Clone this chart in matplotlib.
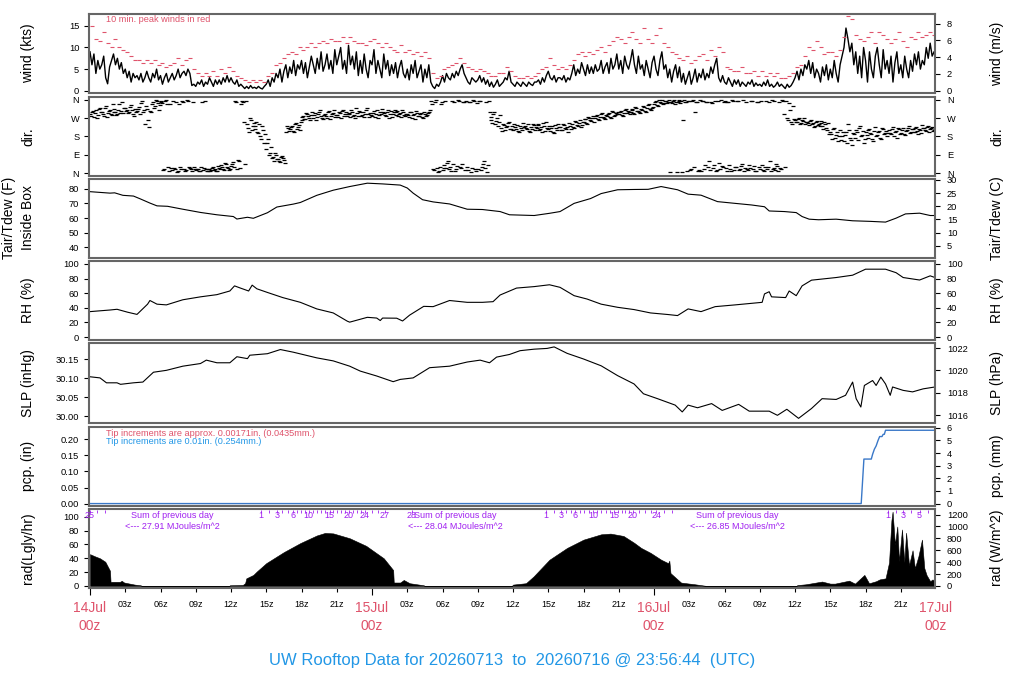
import numpy as np
import matplotlib
matplotlib.use("Agg")
import matplotlib.pyplot as plt
import matplotlib.transforms as mtransforms

plt.rcParams['font.family'] = ['Liberation Sans', 'DejaVu Sans']

RED = '#DF536B'
BLUE = '#2297E6'
PURPLE = '#A020F0'
FRAME = '#666666'

# ---------------- data (hours after 14Jul 00z) ----------------
# wind speed (kts), 10-minute values
wind_kts = [
 9, 6, 8.5, 4, 7, 5,
 6, 8, 3, 1.6, 5.5, 7,
 8.5, 6, 7.5, 5, 6.5, 4,
 5, 3, 4.5, 2, 4, 3,
 3.5, 2.5, 4, 2, 3, 4.5,
 3, 2, 4, 3, 5, 2.5,
 3.5, 1.5, 3, 4, 2, 3,
 4, 2.5, 3.5, 5, 3, 4,
 4.5, 3.5, 5, 4, 1.2, 1.5,
 1, 2, 1.5, 2.5, 1, 2,
 1.5, 3, 2, 1, 2.5, 1.5,
 2.5, 1.5, 3, 2, 3.5, 2,
 3, 2, 1.5, 2.5, 1, 1.5,
 1, 0.5, 1, 0.5, 1.2, 0.6,
 0.8, 0.5, 1, 0.6, 0.4, 1,
 1.5, 2.5, 1, 3, 2, 4,
 3, 5, 2, 4.5, 6, 3,
 5.5, 4, 7, 3.5, 6, 5,
 7, 4, 6.5, 3, 5.5, 8,
 6, 4, 7.5, 5, 9, 4.5,
 6, 8.5, 5, 7, 4, 9.5,
 6, 8, 10, 5, 7, 4,
 10.5, 6, 8, 5, 9, 3.5,
 7, 4, 8.5, 5, 3, 7,
 6, 9.5, 4, 7, 5, 3,
 8.5, 5, 7, 3.5, 6, 4,
 6.5, 3, 5.5, 7, 4, 3,
 5, 2.5, 6, 4, 7, 3,
 4.5, 6, 2, 5, 3, 6,
 2, 1, 0.5, 1.5, 1, 2,
 3.5, 2, 4, 3, 2.5, 4,
 3, 4.5, 3.5, 5, 6, 4,
 3, 2, 1.5, 3, 2.5, 2,
 2.5, 3.5, 2, 3, 1.5, 2.5,
 1, 2, 0.8, 1.5, 2.5, 1,
 1.5, 2, 3, 2.5, 4.5, 2,
 1.5, 1, 2, 1.5, 1, 2,
 1.5, 1, 2, 1.5, 1.2, 2,
 2, 2.5, 1.5, 3, 2, 3.5,
 4.5, 3, 2.5, 3.5, 2, 3,
 3, 2.5, 3.5, 2, 3, 2.5,
 4, 6, 3.5, 5, 4, 6.5,
 5, 3.5, 6, 4, 5.5, 4,
 6, 4.5, 5, 7, 4, 5.5,
 6.5, 4, 7.5, 5, 6, 8.5,
 5, 7, 4, 8, 6, 5,
 7, 9.5, 6, 4, 8, 5,
 6, 3.5, 7, 5, 3, 6.5,
 8, 5, 3.5, 7, 9, 5,
 6, 3, 5, 2, 4.5, 6,
 3, 5.5, 2, 4, 1.5, 3,
 4.5, 1.5, 3, 5, 2, 4,
 3, 5, 2.5, 4, 3, 5.5,
 4, 6, 7.5, 3, 2, 3.5,
 2, 1.5, 3, 2, 1, 2.5,
 1.5, 2.5, 1, 2, 1.5, 1,
 2, 1.5, 2.5, 1, 1.8, 1.2,
 1.5, 1, 2, 1.2, 2.5, 1,
 1.5, 0.8, 1.2, 2, 1, 1.5,
 1, 0.5, 1.5, 0.8, 1.2, 2,
 3, 4.5, 2.5, 5, 3.5, 6,
 5, 7, 4, 6.5, 3, 5,
 4, 2, 5.5, 3.5, 6, 2.5,
 5, 3, 7, 4, 2, 6,
 8, 10, 14.5, 12, 9, 11,
 6, 9, 4, 8, 3, 10,
 7, 2, 9, 5, 3, 8,
 10, 6, 3, 9.5, 5, 7,
 4, 8, 2, 6.5, 9, 4,
 6, 3, 8, 5, 3, 7,
 4.5, 8.5, 6, 9, 5, 7,
 6, 10, 7.5, 11, 8, 9,
]

# peak wind (kts), 20-minute values
peak_kts = [
 15, 12, 11.5,  13.5, 11, 10,  12, 10, 9.5,  9, 8, 7,
 7, 6.5, 7,  6.5, 7, 6,  6.5, 5.5, 6,  6.5, 7.5, 6,
 7, 7.5, 5,  4, 3.5, 4,  3.5, 4.5, 3.5,  5, 4, 5.5,
 4.5, 3.5, 3,  2.5, 2, 2.5,  2, 2.5, 2,  3.5, 4, 6,
 6.5, 7.5, 8.5,  9, 8.5, 10,  9.5, 10, 11,  10, 11, 11.5,
 11, 12, 11.5,  11.5, 12.5, 11,  12.5, 11.5, 11,  11, 10.5, 11.5,
 12, 11, 10,  11, 10, 9.5,  9, 10.5, 9,  9.5, 8.5, 9,
 8, 9, 7.5,  4, 3, 3.5,  5, 5.5, 6,  6.5, 7.5, 6.5,
 5.5, 5, 4.5,  5, 4.5, 4,  3.5, 3.5, 4,  4, 5.5, 4.5,
 3.5, 3, 3,  3.5, 3, 3.5,  4, 5, 5.5,  7.5, 6, 5,
 5.5, 5, 6,  7, 8.5, 9,  8, 9, 8.5,  9.5, 10, 9,
 10.5, 11.5, 12.5,  12, 11, 12.5,  13.5, 12, 11,  14.5, 12, 11,
 13, 14.5, 11,  10, 9, 8.5,  7.5, 7, 8,  6.5, 7, 8,
 8.5, 7, 9.5,  8, 10, 9,  5.5, 5, 4.5,  4.5, 5.5, 4,
 4, 4.5, 3.5,  4.5, 3.5, 4,  3.5, 4, 3,  3, 3.5, 4,
 5.5, 6, 8,  10, 9.5, 11.5,  10, 8.5, 9,  9, 8, 9.5,
 12.5, 17.2, 16.5,  13, 12, 11.5,  12.5, 13.5, 11,  13.5, 13, 12,
 11, 12, 13.5,  11.5, 10, 12.5,  12, 13.5, 12.5,  13, 13.5, 13,
]

# wind direction (deg), 10-minute values on the hour marks
wind_dir = [
 290, 300, 275, 310, 285, 320,
 300, 280, 330, 295, 310, 285,
 315, 300, 290, 340, 305, 295,
 320, 310, 300, 335, 290, 315,
 305, 325, 345, 300, 240, 315,
 225, 300, 350, 330, 355, 310,
 355, 345, 20, 358, 30, 340,
 15, 25, 352, 10, 30, 355,
 20, 15, 355, 25, 10, 30,
 15, 20, 12, 350, 25, 18,
 10, 22, 15, 30, 20, 12,
 25, 40, 20, 50, 30, 15,
 35, 55, 355, 20, 60, 340,
 350, 45, 240, 200, 260, 230,
 215, 250, 195, 180, 230, 150,
 120, 170, 100, 75, 60, 90,
 70, 55, 85, 65, 200, 220,
 215, 230, 200, 245, 225, 210,
 260, 280, 265, 290, 270, 285,
 270, 295, 275, 300, 280, 265,
 290, 270, 305, 280, 295, 275,
 285, 300, 270, 310, 290, 280,
 295, 275, 300, 285, 320, 280,
 300, 285, 275, 310, 290, 295,
 280, 305, 290, 270, 300, 315,
 295, 280, 310, 290, 275, 300,
 285, 305, 290, 275, 300, 280,
 290, 275, 300, 285, 265, 295,
 280, 295, 270, 290, 285, 300,
 355, 20, 350, 25, 10, 340,
 15, 40, 25, 60, 30, 355,
 350, 20, 358, 30, 45, 352,
 355, 15, 350, 25, 355, 10,
 20, 355, 30, 60, 350, 40,
 300, 260, 290, 240, 270, 250,
 220, 240, 210, 230, 250, 215,
 210, 225, 235, 200, 220, 245,
 230, 215, 205, 225, 240, 210,
 220, 235, 215, 200, 230, 250,
 215, 205, 230, 195, 220, 240,
 225, 210, 235, 215, 200, 230,
 240, 220, 250, 230, 260, 235,
 250, 265, 240, 270, 255, 280,
 270, 285, 260, 290, 275, 265,
 280, 295, 270, 300, 285, 290,
 290, 305, 280, 310, 295, 300,
 300, 315, 290, 320, 305, 295,
 310, 325, 300, 335, 315, 320,
 340, 355, 330, 350, 358, 345,
 355, 350, 5, 345, 358, 350,
 350, 360, 355, 260, 352, 10,
 355, 20, 358, 300, 350, 15,
 10, 355, 40, 352, 60, 350,
 25, 355, 15, 50, 358, 30,
 355, 10, 350, 20, 358, 15,
 30, 355, 20, 45, 10, 352,
 15, 25, 355, 35, 10, 350,
 20, 40, 10, 355, 30, 60,
 358, 25, 15, 35, 350, 20,
 355, 30, 270, 345, 250, 330,
 260, 250, 270, 245, 255, 240,
 250, 235, 260, 245, 230, 255,
 240, 255, 230, 250, 220, 245,
 200, 170, 220, 185, 160, 210,
 180, 160, 200, 240, 175, 140,
 190, 210, 165, 230, 185, 150,
 200, 175, 215, 190, 160, 225,
 185, 205, 170, 215, 195, 180,
 210, 190, 225, 200, 175, 215,
 195, 220, 185, 210, 230, 200,
 215, 200, 225, 190, 210, 235,
 220, 205, 230, 215, 225, 210,
]

# wind direction (deg), 10-minute values offset by 5 minutes
wind_dir_mid = [
 280, 305, 295, 270, 315, 300,
 290, 320, 275, 305, 290, 340,
 300, 285, 310, 295, 350, 320,
 305, 295, 325, 310, 280, 300,
 315, 290, 355, 310, 330, 260,
 305, 340, 320, 358, 345, 335,
 350, 15, 355, 340, 10, 25,
 355, 20, 5, 340, 18, 350,
 12, 358, 28, 18, 350, 22,
 20, 10, 28, 15, 355, 12,
 18, 12, 25, 15, 10, 35,
 20, 30, 15, 45, 25, 18,
 45, 30, 350, 65, 25, 355,
 250, 355, 220, 270, 210, 245,
 230, 200, 240, 170, 210, 190,
 150, 90, 130, 80, 100, 70,
 60, 80, 75, 50, 230, 205,
 225, 205, 240, 215, 235, 250,
 275, 265, 295, 280, 260, 300,
 285, 260, 290, 310, 270, 285,
 280, 300, 265, 290, 310, 285,
 275, 295, 305, 280, 300, 290,
 290, 310, 280, 270, 295, 305,
 280, 300, 290, 320, 275, 285,
 295, 275, 310, 285, 290, 300,
 285, 300, 270, 305, 290, 310,
 300, 280, 295, 310, 285, 290,
 285, 300, 270, 290, 305, 280,
 290, 275, 300, 280, 295, 310,
 340, 15, 358, 5, 30, 350,
 25, 355, 50, 20, 10, 45,
 10, 35, 355, 25, 350, 15,
 30, 350, 5, 358, 20, 345,
 355, 15, 45, 25, 5, 355,
 275, 245, 300, 255, 230, 285,
 205, 235, 225, 245, 215, 230,
 240, 215, 205, 230, 210, 225,
 220, 240, 200, 215, 235, 225,
 240, 210, 225, 245, 205, 220,
 230, 220, 200, 235, 210, 225,
 210, 240, 220, 225, 245, 215,
 225, 255, 235, 245, 225, 250,
 265, 245, 275, 260, 270, 250,
 280, 265, 275, 295, 270, 285,
 290, 275, 305, 280, 295, 300,
 300, 285, 295, 315, 305, 290,
 310, 295, 325, 305, 300, 315,
 330, 305, 320, 340, 310, 325,
 350, 335, 358, 345, 340, 355,
 345, 358, 350, 355, 340, 5,
 355, 345, 5, 358, 350, 355,
 15, 355, 30, 350, 10, 358,
 355, 20, 350, 30, 15, 345,
 40, 10, 355, 20, 35, 352,
 25, 350, 40, 10, 355, 30,
 355, 15, 35, 358, 25, 20,
 40, 355, 20, 10, 352, 30,
 355, 15, 30, 20, 350, 10,
 20, 355, 45, 10, 25, 358,
 290, 355, 260, 310, 240, 265,
 250, 265, 240, 260, 270, 250,
 245, 255, 240, 225, 250, 235,
 230, 245, 215, 240, 210, 190,
 190, 215, 175, 200, 180, 165,
 200, 185, 150, 210, 165, 195,
 175, 200, 220, 180, 205, 170,
 185, 210, 195, 170, 205, 180,
 200, 175, 220, 190, 205, 195,
 195, 215, 180, 205, 220, 190,
 210, 190, 205, 220, 195, 215,
 200, 220, 205, 215, 195, 220,
 210, 225, 200, 220, 205, 215,
]

# air temperature (F)
temp_hours = [0, 1.7, 2.1, 2.8, 3.7, 4.3, 5.1, 5.7, 6.6, 7.9,
              9.4, 10.8, 12.2, 12.5, 13.4, 13.9, 15.1, 15.9, 17.3, 17.9,
              19.3, 20.7, 22.1, 23.6, 24.9, 26.4, 27.0, 27.5, 28.3, 29.2,
              30.6, 32.1, 33.4, 34.9, 35.7, 37.8, 39.1, 40.0, 41.2, 42.6,
              43.5, 44.9, 46.3, 47.5, 48.6, 50.0, 50.9, 52.0, 53.4, 54.9,
              56.3, 57.4, 57.8, 59.1, 60.1, 60.6, 61.2, 62.0, 63.5, 64.9,
              66.4, 67.7, 68.6, 69.4, 70.6, 71.5, 71.91]
temp_f = [78.0, 77.0, 77.2, 75.5, 75.0, 73.0, 70.2, 68.3, 68.0, 66.0,
          63.8, 62.2, 61.0, 59.3, 60.5, 59.8, 63.6, 67.5, 69.5, 70.6,
          75.5, 79.0, 81.5, 83.8, 83.3, 82.5, 80.5, 77.0, 72.5, 71.0,
          69.6, 66.0, 65.8, 64.4, 62.2, 61.7, 63.2, 64.4, 70.0, 73.3,
          76.7, 79.3, 79.5, 79.6, 81.5, 79.3, 76.3, 75.6, 71.2, 70.0,
          68.9, 67.7, 64.8, 64.4, 63.7, 61.0, 59.2, 58.8, 59.2, 58.1,
          57.7, 57.2, 59.9, 62.8, 63.3, 61.7, 61.7]

# relative humidity (%)
rh_hours = [0, 1.7, 2.3, 3.2, 4.0, 4.9, 5.1, 5.7, 6.5, 7.9,
            9.4, 10.8, 11.9, 12.3, 12.8, 13.5, 13.8, 14.2, 15.1, 16.4,
            17.9, 19.3, 20.7, 21.9, 22.1, 23.6, 24.4, 24.7, 24.9, 26.1,
            26.6, 27.2, 28.4, 29.2, 30.6, 32.1, 33.4, 34.3, 34.9, 36.3,
            37.8, 39.1, 40.0, 41.2, 42.3, 43.5, 44.9, 46.3, 47.7, 49.2,
            50.0, 50.9, 52.0, 53.2, 54.9, 57.2, 57.4, 57.8, 58.0, 59.2,
            59.5, 60.1, 60.6, 61.4, 63.5, 64.9, 66.0, 67.7, 68.6, 69.2,
            70.6, 71.5, 71.91]
rh_pct = [34.8, 37, 38, 34, 31, 45, 50, 45, 44, 51,
          55, 58, 63, 70, 67, 63, 71, 66, 61, 54,
          47.5, 38.5, 33, 21.7, 20.4, 27, 26, 22.6, 26, 25.8,
          22, 30, 42, 41.6, 50, 47.5, 47.5, 48.4, 57.5, 67,
          69, 71.5, 68, 56.6, 52, 45, 40.7, 37.6, 33, 30.8,
          29.4, 38.5, 34.8, 41.6, 44, 47.5, 59, 62, 55, 54,
          63, 56.6, 70, 77.8, 81.4, 84.6, 92.8, 92.8, 88, 81.4,
          78, 83.7, 81.4]

# sea-level pressure (inHg)
slp_hours = [0, 0.85, 1.4, 2.3, 2.6, 3.7, 4.5, 5.4, 6.5, 7.9,
             9.4, 9.9, 10.8, 11.9, 12.5, 13.4, 13.6, 15.1, 16.2, 17.3,
             19.3, 20.7, 22.1, 23.0, 24.4, 25.8, 26.4, 27.5, 28.9, 30.6,
             32.1, 33.2, 34.0, 34.6, 35.7, 36.6, 37.8, 38.9, 39.5, 40.6,
             42.0, 43.5, 44.9, 46.3, 47.1, 48.3, 49.8, 50.4, 50.9, 51.7,
             52.9, 53.8, 55.2, 56.1, 57.8, 58.5, 59.3, 60.3, 61.4, 62.3,
             63.5, 64.3, 64.9, 65.2, 65.6, 65.9, 66.6, 66.9, 67.3, 67.7,
             68.1, 68.3, 69.2, 70.0, 70.9, 71.91]
slp_inhg = [30.104, 30.101, 30.088, 30.088, 30.084, 30.088, 30.090, 30.116, 30.121, 30.132,
            30.139, 30.148, 30.141, 30.141, 30.157, 30.152, 30.161, 30.165, 30.176, 30.169,
            30.154, 30.146, 30.132, 30.119, 30.106, 30.091, 30.097, 30.101, 30.128, 30.132,
            30.143, 30.148, 30.141, 30.156, 30.163, 30.173, 30.177, 30.179, 30.183, 30.166,
            30.151, 30.133, 30.107, 30.085, 30.059, 30.046, 30.029, 30.011, 30.029, 30.022,
            30.033, 30.015, 30.031, 30.013, 30.013, 30.002, 30.018, 29.994, 30.020, 30.046,
            30.044, 30.055, 30.090, 30.046, 30.024, 30.081, 30.094, 30.081, 30.103, 30.085,
            30.055, 30.077, 30.068, 30.064, 30.072, 30.077]

# accumulated precipitation (in)
pcp_hours = [0, 65.63, 65.86, 66.49, 66.6, 66.75, 66.9, 67.05, 67.2, 67.4, 67.5, 67.6, 67.7, 71.91]
pcp_in = [0, 0, 0.1386, 0.1386, 0.1535, 0.1693, 0.1795, 0.1953, 0.2087, 0.2087, 0.2157, 0.2157, 0.2283, 0.2283]

# solar radiation (Langley/hr)
rad_hours = [0.0, 0.4, 0.85, 1.3, 1.7, 1.75, 2.55, 2.7, 2.9, 3.2, 3.8, 4.3, 4.45,
             11.85, 11.9, 13.0, 13.2, 13.3, 13.9, 14.2, 15.0, 16.5, 17.9, 19.3, 20.0,
             20.7, 22.1, 23.5, 25.0, 25.8, 25.85, 26.4, 26.7, 27.2, 28.4, 28.5,
             35.9, 36.0, 37.1, 37.75, 39.1, 40.6, 42.0, 43.5, 44.3, 45.4, 46.3, 46.9,
             47.7, 48.6, 49.2, 49.3, 49.4, 50.3, 51.5, 52.5,
             60.1, 60.2, 60.9, 62.3, 63.0, 63.4, 64.6, 65.1, 65.9, 66.3, 66.9, 67.2,
             67.7, 68.0, 68.2, 68.3, 68.5, 68.7, 68.85, 69.1, 69.3, 69.45, 69.7, 70.0,
             70.2, 70.5, 70.8, 71.0, 71.2, 71.5, 71.7, 71.91]
rad_lgly = [46, 43, 40, 35, 22, 6, 6, 7.5, 5, 4, 2, 1, 0,
            0, 1, 1.5, 4, 11, 16, 21, 33, 49, 62, 73, 76.7,
            76, 69, 58, 40, 23, 5, 5, 8.7, 4, 1, 0,
            0, 2, 4, 13.8, 38, 55, 67, 74.7, 75.7, 72.3, 62.5, 55,
            47.9, 38, 33, 36.5, 18.6, 4.9, 2.4, 0,
            0, 1.3, 2.4, 6.4, 3.4, 3.4, 7.7, 3.4, 16, 3.9, 6.9, 9.5,
            11, 34, 94.6, 107.5, 60, 86, 36, 81.7, 34.4, 77, 30, 51.6,
            25.8, 43, 67, 25.8, 15.5, 6.9, 9.5, 6]

# cumulative daily radiation markers (MJ/m^2)
mj_vals = [[25, 26, 27],
           [1, 3, 6, 10, 15, 20, 24, 27, 28],
           [1, 3, 6, 10, 15, 20, 24, 26],
           [1, 3, 5, 6]]
mj_hours = [[0.0, 0.6, 1.3],
            [14.55, 15.9, 17.3, 18.6, 20.4, 22.0, 23.4, 25.1, 27.4],
            [38.8, 40.1, 41.3, 42.8, 44.6, 46.2, 48.2, 49.5],
            [67.9, 69.2, 70.6, 71.3]]
mj_labelled = [[25], [1, 3, 6, 10, 15, 20, 24, 27, 28], [1, 3, 6, 10, 15, 20, 24], [1, 3, 5]]
sum_hours = [7.0, 31.1, 55.1]
sum_totals = ['27.91', '28.04', '26.85']

day_hours = [0, 24, 48, 72]
day_names = ['14Jul', '15Jul', '16Jul', '17Jul']
title_text = 'UW Rooftop Data for 20260713  to  20260716 @ 23:56:44  (UTC)'

# ---------------- figure ----------------
W_PX, H_PX = 1024, 700
fig = plt.figure(figsize=(10.24, 7.0), dpi=100)


def fx(px):
    return px / W_PX


def fy(py):
    return 1 - py / H_PX


left_px, right_px = 89, 935
panel_tops = [14, 97, 178.5, 261, 343.5, 426.5, 508.5]
panel_h = 79
XLIM = (-0.085, 71.91)
TICKSZ = 6.7

axes = []
for top in panel_tops:
    ax = fig.add_axes([fx(left_px), fy(top + panel_h), fx(right_px) - fx(left_px), panel_h / H_PX])
    ax.set_xlim(*XLIM)
    for s in ax.spines.values():
        s.set_color(FRAME)
        s.set_linewidth(1.5)
    ax.tick_params(axis='y', direction='out', length=3.5, width=0.8, labelsize=TICKSZ, pad=3.5)
    ax.tick_params(axis='x', which='both', bottom=False, labelbottom=False)
    axes.append(ax)


def right_axis(ax, f, finv, ticks, labels=None):
    sec = ax.secondary_yaxis('right', functions=(f, finv))
    if labels is None:
        sec.set_ticks(ticks)
    else:
        sec.set_ticks(ticks, labels=labels)
    sec.tick_params(axis='y', direction='out', length=3.5, width=0.8, labelsize=TICKSZ, pad=5)
    sec.spines['right'].set_visible(False)
    return sec


def ident(v):
    return v


t10 = np.arange(len(wind_kts)) / 6.0
t20 = (np.arange(len(peak_kts)) + 0.5) / 3.0
tdir = np.arange(len(wind_dir)) / 6.0
tdir_mid = (np.arange(len(wind_dir_mid)) + 0.5) / 6.0

# wind
ax = axes[0]
ax.plot(t10, wind_kts, color='black', lw=1.0)
ax.plot(t20, peak_kts, ls='none', marker='_', ms=3, mew=0.8, color=RED)
ax.set_ylim(-0.53, 17.75)
ax.set_yticks([0, 5, 10, 15])
right_axis(ax, lambda k: k / 1.943844, lambda m: m * 1.943844, [0, 2, 4, 6, 8])

# direction
ax = axes[1]
ax.plot(tdir, wind_dir, ls='none', marker='_', ms=2.8, mew=0.9, color='black')
ax.plot(tdir_mid, wind_dir_mid, ls='none', marker='_', ms=2.8, mew=0.9, color='black')
ax.set_ylim(-14.4, 374.4)
dir_ticks = [0, 90, 180, 270, 360]
dir_labels = ['N', 'E', 'S', 'W', 'N']
ax.set_yticks(dir_ticks, labels=dir_labels)
right_axis(ax, ident, ident, dir_ticks, dir_labels)

# temperature
ax = axes[2]
n = min(len(temp_hours), len(temp_f))
ax.plot(temp_hours[:n], temp_f[:n], color='black', lw=0.8)
ax.set_ylim(33, 87)
ax.set_yticks([40, 50, 60, 70, 80])
right_axis(ax, lambda f: (f - 32) / 1.8, lambda c: c * 1.8 + 32, [5, 10, 15, 20, 25, 30])

# RH
ax = axes[3]
n = min(len(rh_hours), len(rh_pct))
ax.plot(rh_hours[:n], rh_pct[:n], color='black', lw=0.8)
ax.set_ylim(-4, 104)
ax.set_yticks([0, 20, 40, 60, 80, 100])
right_axis(ax, ident, ident, [0, 20, 40, 60, 80, 100])

# SLP
ax = axes[4]
n = min(len(slp_hours), len(slp_inhg))
ax.plot(slp_hours[:n], slp_inhg[:n], color='black', lw=0.8)
ax.set_ylim(29.983, 30.192)
ax.set_yticks([30.00, 30.05, 30.10, 30.15], labels=['30.00', '30.05', '30.10', '30.15'])
right_axis(ax, lambda p: p * 33.8639, lambda h: h / 33.8639, [1016, 1018, 1020, 1022])

# precipitation
ax = axes[5]
n = min(len(pcp_hours), len(pcp_in))
ax.plot(pcp_hours[:n], pcp_in[:n], color='#3A78C8', lw=1.0)
ax.set_ylim(-0.006, 0.24)
ax.set_yticks([0, 0.05, 0.10, 0.15, 0.20], labels=['0.00', '0.05', '0.10', '0.15', '0.20'])
right_axis(ax, lambda i: i * 25.4, lambda m: m / 25.4, [0, 1, 2, 3, 4, 5, 6])
fig.text(fx(106), fy(433), 'Tip increments are approx. 0.00171in. (0.0435mm.)',
         color=RED, fontsize=6.6, ha='left', va='center')
fig.text(fx(106), fy(442), 'Tip increments are 0.01in. (0.254mm.)',
         color=BLUE, fontsize=6.6, ha='left', va='center')

# radiation
ax = axes[6]
n = min(len(rad_hours), len(rad_lgly))
ax.fill_between(rad_hours[:n], 0, rad_lgly[:n], color='black', lw=0.4)
ax.set_ylim(-2.2, 112)
ax.set_yticks([0, 20, 40, 60, 80, 100])
right_axis(ax, lambda l: l * 11.622, lambda w: w / 11.622, [0, 200, 400, 600, 800, 1000, 1200])

trans = mtransforms.blended_transform_factory(ax.transData, fig.transFigure)
for vals, hrs, labs in zip(mj_vals, mj_hours, mj_labelled):
    ints = np.arange(int(np.ceil(min(vals))), int(np.floor(max(vals))) + 1)
    th = np.interp(ints, vals, hrs)
    ax.vlines(th, fy(509.5), fy(512.5), transform=trans, color=PURPLE, lw=0.6, clip_on=False)
    for v, h in zip(vals, hrs):
        if v in labs:
            ax.text(h, fy(515.5), str(v), transform=trans, color=PURPLE, fontsize=6.5,
                    ha='center', va='center')
for h, tot in zip(sum_hours, sum_totals):
    ax.text(h, fy(515.5), 'Sum of previous day', transform=trans, color=PURPLE,
            fontsize=6.5, ha='center', va='center')
    ax.text(h, fy(526.5), '<--- ' + tot + ' MJoules/m^2', transform=trans, color=PURPLE,
            fontsize=6.5, ha='center', va='center')

# x axis (time)
ax.tick_params(axis='x', which='both', bottom=True, direction='out', width=0.8, labelbottom=False)
ax.set_xticks(day_hours[:3])
ax.set_xticks([h for h in range(3, 72, 3) if h % 24], minor=True)
ax.tick_params(axis='x', which='major', length=5)
ax.tick_params(axis='x', which='minor', length=3)
for h in range(3, 72, 3):
    if h % 24:
        ax.text(h, fy(604.5), '%02dz' % (h % 24), transform=trans, fontsize=6.5,
                ha='center', va='center', color='black')
for h, name in zip(day_hours, day_names):
    ax.text(h, fy(608.5), name, transform=trans, fontsize=10, ha='center', va='center', color=RED)
    ax.text(h, fy(626.5), '00z', transform=trans, fontsize=10, ha='center', va='center', color=RED)

# wind note
fig.text(fx(106), fy(19), '10 min. peak winds in red', color=RED, fontsize=6.6,
         ha='left', va='center')

# y labels
left_labels = ['wind (kts)', 'dir.', None, 'RH (%)', 'SLP (inHg)', 'pcp. (in)', 'rad(Lgly/hr)']
right_labels = ['wind (m/s)', 'dir.', 'Tair/Tdew (C)', 'RH (%)', 'SLP (hPa)', 'pcp. (mm)', 'rad (W/m^2)']
for top, ll, rl in zip(panel_tops, left_labels, right_labels):
    yc = fy(top + panel_h / 2)
    if ll is not None:
        fig.text(fx(28), yc, ll, rotation=90, fontsize=10, ha='center', va='center')
    fig.text(fx(997), yc, rl, rotation=90, fontsize=10, ha='center', va='center')
yc = fy(panel_tops[2] + panel_h / 2)
fig.text(fx(9), yc, 'Tair/Tdew (F)', rotation=90, fontsize=10, ha='center', va='center')
fig.text(fx(28), yc, 'Inside Box', rotation=90, fontsize=10, ha='center', va='center')

# title
fig.text(fx(512), fy(660), title_text, color=BLUE, fontsize=12, ha='center', va='center')

fig.savefig('out.png', dpi=100)
